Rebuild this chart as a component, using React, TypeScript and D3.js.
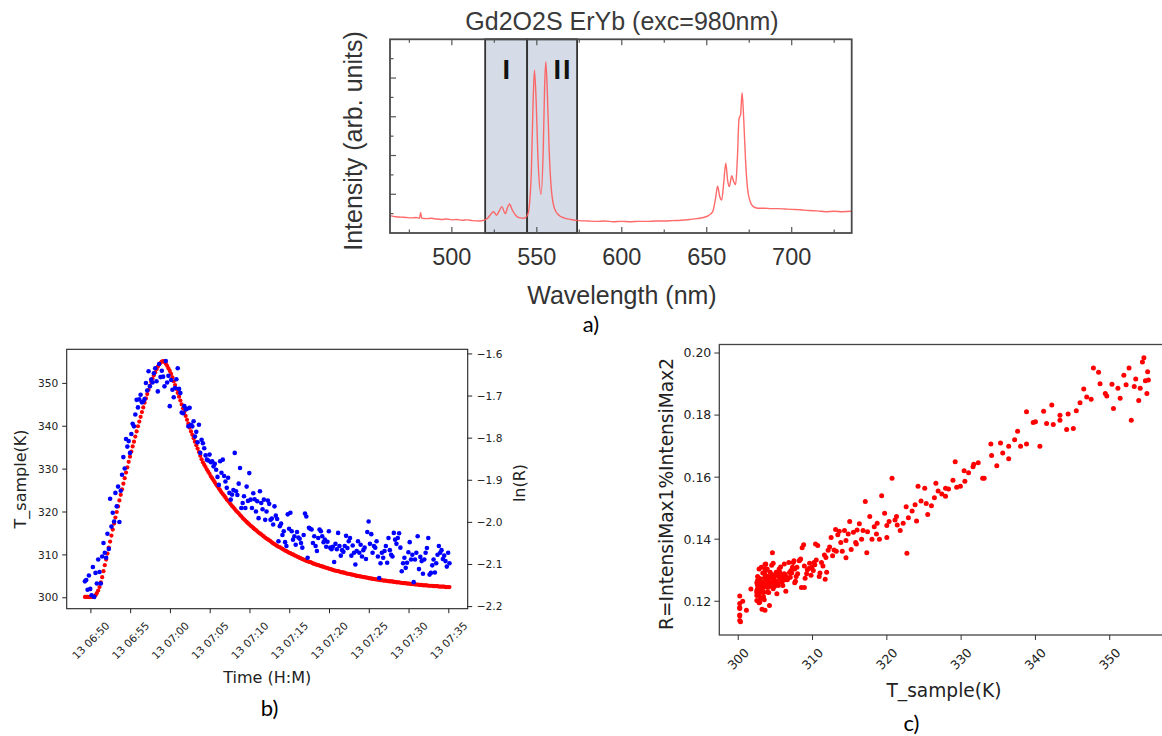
import React from 'react';
import * as d3 from 'd3';

// ---- panel a: emission spectrum, [wavelength nm, intensity arb.]
const spectrum: [number, number][] = [
  [463.6, 0.45], [467, 0.42], [470, 0.41], [473, 0.4], [476, 0.39], [479, 0.4], [481, 0.38],
  [481.6, 0.53], [482.3, 0.38], [485, 0.37], [488, 0.38], [491, 0.36], [494, 0.35], [497, 0.36],
  [500, 0.34], [503, 0.35], [506, 0.33], [509, 0.34], [512, 0.32], [516, 0.31], [519, 0.33],
  [521, 0.38], [522.5, 0.46], [524.5, 0.55], [526.3, 0.46], [528, 0.58], [529.4, 0.68],
  [531.4, 0.5], [532.8, 0.66], [533.9, 0.75], [535.5, 0.6], [537.5, 0.46], [540, 0.39],
  [542.5, 0.38], [544.5, 0.46], [545.8, 0.8], [546.8, 1.6], [547.7, 3.2], [548.6, 4.2],
  [549.6, 3.4], [550.8, 1.8], [552.5, 1.0], [553.8, 2.2], [554.6, 3.8], [555.3, 4.42],
  [556.2, 3.6], [557.3, 2.1], [558.6, 1.1], [560.5, 0.62], [563, 0.46], [566, 0.39], [570, 0.35],
  [575, 0.32], [580, 0.31], [585, 0.3], [590, 0.31], [595, 0.29], [600, 0.3], [605, 0.29],
  [610, 0.3], [615, 0.3], [620, 0.31], [625, 0.31], [630, 0.32], [635, 0.33], [640, 0.35],
  [644, 0.37], [648, 0.4], [651, 0.45], [653.5, 0.55], [655.2, 0.9], [656.4, 1.21], [657.6, 0.95],
  [658.8, 0.85], [660, 1.3], [661.2, 1.8], [662.3, 1.35], [663.3, 1.2], [664.7, 1.48],
  [665.9, 1.32], [667, 1.25], [668, 1.9], [669, 2.95], [669.9, 3.05], [670.8, 3.62],
  [671.8, 2.9], [672.8, 1.9], [674, 1.15], [675.5, 0.82], [677.4, 0.68], [680, 0.64], [684, 0.64],
  [688, 0.63], [692, 0.63], [696, 0.62], [700, 0.61], [705, 0.6], [710, 0.58], [715, 0.57],
  [720, 0.55], [725, 0.56], [730, 0.55], [735.3, 0.56],
];
const bandI = [519.6, 544.3];
const bandII = [544.3, 573.7];
const wlTicks = [500, 550, 600, 650, 700];
const wlMinor = [475, 525, 575, 625, 675, 725];
const intTicks = [1, 2, 3, 4];
const intMinor = [0.5, 1.5, 2.5, 3.5, 4.5];

// ---- panels b & c: one sample every 10 s starting 13th, 06:49:15
const startTime = new Date(2021, 0, 13, 6, 49, 15);
const stepSec = 10;
const tSample = [
  300.2, 300.2, 300.2, 300.2, 300.2, 300.2, 300.2, 300.3, 300.6, 301.1,
  301.7, 302.5, 303.6, 304.8, 306.2, 307.6, 308.9, 310.3, 311.7, 313.1,
  314.5, 315.9, 317.3, 318.7, 320.0, 321.3, 322.7, 324.0, 325.3, 326.6,
  327.9, 329.2, 330.4, 331.7, 332.9, 334.1, 335.3, 336.4, 337.6, 338.8,
  340.0, 341.1, 342.2, 343.3, 344.4, 345.5, 346.5, 347.5, 348.5, 349.4,
  350.3, 351.1, 351.9, 352.6, 353.3, 353.9, 354.4, 354.8, 355.1, 355.2,
  355.0, 354.6, 354.1, 353.5, 352.9, 352.2, 351.4, 350.5, 349.6, 348.7,
  347.8, 346.9, 346.0, 345.1, 344.2, 343.3, 342.4, 341.5, 340.6, 339.7,
  338.8, 338.0, 337.2, 336.4, 335.6, 334.8, 334.0, 333.1, 332.3,
  331.6, 331.0, 330.5, 329.9, 329.4, 328.9,
  328.3, 327.9, 327.4, 326.9, 326.4, 326.0,
  325.5, 325.1, 324.6, 324.2, 323.8, 323.4,
  322.9, 322.6, 322.2, 321.8, 321.4, 321.1,
  320.7, 320.3, 320.0, 319.7, 319.3, 319.0,
  318.6, 318.3, 318.0, 317.7, 317.4, 317.1,
  316.8, 316.6, 316.3, 316.0, 315.8, 315.5,
  315.2, 315.0, 314.8, 314.5, 314.3, 314.0,
  313.8, 313.6, 313.4, 313.2, 312.9, 312.7,
  312.5, 312.3, 312.1, 311.9, 311.8, 311.6,
  311.4, 311.2, 311.0, 310.9, 310.7, 310.5,
  310.4, 310.2, 310.1, 309.9, 309.8, 309.6,
  309.5, 309.3, 309.2, 309.0, 308.9, 308.8,
  308.6, 308.5, 308.4, 308.3, 308.2, 308.0,
  307.9, 307.8, 307.7, 307.6, 307.5, 307.4,
  307.3, 307.2, 307.1, 307.0, 306.9, 306.8,
  306.7, 306.6, 306.5, 306.4, 306.3, 306.3,
  306.2, 306.1, 306.0, 305.9, 305.9, 305.8,
  305.7, 305.6, 305.6, 305.5, 305.4, 305.4,
  305.3, 305.2, 305.1, 305.1, 305.0, 305.0,
  304.9, 304.8, 304.8, 304.7, 304.7, 304.6,
  304.5, 304.5, 304.4, 304.4, 304.3, 304.3,
  304.2, 304.2, 304.1, 304.1, 304.0, 304.0,
  304.0, 303.9, 303.9, 303.8, 303.8, 303.8,
  303.7, 303.7, 303.6, 303.6, 303.6, 303.5,
  303.5, 303.4, 303.4, 303.4, 303.3, 303.3,
  303.3, 303.2, 303.2, 303.2, 303.1, 303.1,
  303.1, 303.0, 303.0, 303.0, 302.9, 302.9,
  302.9, 302.9, 302.8, 302.8, 302.8, 302.8,
  302.7, 302.7, 302.7, 302.7, 302.6, 302.6,
  302.6, 302.6, 302.6, 302.5, 302.5, 302.5,
  302.5,
];
const lnR = [
  -2.140, -2.137, -2.160, -2.126, -2.158, -2.173, -2.106, -2.177, -2.120, -2.145,
  -2.088, -2.118, -2.145, -2.081, -2.049, -2.072, -2.084, -2.027, -2.063, -1.944,
  -2.010, -1.977, -1.998, -1.930, -1.962, -1.915, -1.999, -1.925, -1.887, -1.845,
  -1.872, -1.802, -1.820, -1.807, -1.835, -1.790, -1.766, -1.772, -1.744, -1.709,
  -1.727, -1.708, -1.697, -1.715, -1.713, -1.707, -1.669, -1.687, -1.641, -1.677,
  -1.661, -1.668, -1.646, -1.634, -1.665, -1.689, -1.624, -1.655, -1.640, -1.654,
  -1.677, -1.617, -1.668, -1.652, -1.724, -1.662, -1.685, -1.703, -1.681, -1.660,
  -1.634, -1.683, -1.693, -1.739, -1.741, -1.724, -1.732, -1.730, -1.772, -1.728,
  -1.768, -1.772, -1.760, -1.796, -1.785, -1.810, -1.768, -1.835, -1.804, -1.812,
  -1.824, -1.841, -1.851, -1.853, -1.839, -1.857, -1.855, -1.867, -1.861, -1.875,
  -1.892, -1.911, -1.855, -1.882, -1.851, -1.890, -1.903, -1.918, -1.894, -1.930,
  -1.946, -1.934, -1.923, -1.835, -1.926, -1.935, -1.908, -1.871, -1.966, -1.954,
  -1.938, -1.966, -1.915, -1.949, -1.883, -1.946, -1.966, -1.931, -1.945, -1.974,
  -1.950, -1.990, -1.926, -1.954, -1.969, -1.946, -1.994, -1.974, -1.948, -1.956,
  -1.994, -1.991, -2.005, -1.962, -1.984, -1.992, -2.045, -2.009, -2.003, -2.030,
  -2.021, -2.047, -2.056, -1.981, -2.015, -1.977, -2.021, -2.041, -2.033, -2.053,
  -2.023, -2.036, -2.039, -2.049, -2.060, -2.030, -1.979, -1.986, -2.084, -2.013,
  -2.015, -2.017, -2.049, -2.033, -2.056, -2.068, -2.037, -2.017, -2.021, -2.033,
  -2.047, -2.041, -2.058, -2.046, -2.021, -2.060, -2.064, -2.058, -2.094, -2.051,
  -2.064, -2.025, -2.056, -2.079, -2.066, -2.070, -2.056, -2.032, -2.061, -2.045,
  -2.037, -2.079, -2.055, -2.072, -2.100, -2.068, -2.045, -2.072, -2.053, -2.081,
  -2.066, -2.060, -2.087, -2.023, -1.998, -2.051, -2.028, -2.072, -2.056, -2.060,
  -2.045, -2.081, -2.132, -2.097, -2.072, -2.084, -2.068, -2.056, -2.096, -2.037,
  -2.066, -2.077, -2.081, -2.025, -2.041, -2.051, -2.037, -2.026, -2.060, -2.116,
  -2.097, -2.084, -2.108, -2.096, -2.071, -2.047, -2.088, -2.077, -2.142, -2.088,
  -2.072, -2.033, -2.111, -2.082, -2.092, -2.122, -2.088, -2.072, -2.061, -2.037,
  -2.124, -2.120, -2.102, -2.088, -2.119, -2.097, -2.077, -2.056, -2.072, -2.066,
  -2.087, -2.079, -2.092, -2.105, -2.072, -2.097,
];
const tempTicks = [300, 310, 320, 330, 340, 350];
const lnRTicks = [-2.2, -2.1, -2.0, -1.9, -1.8, -1.7, -1.6];
const ratioTicks = [0.12, 0.14, 0.16, 0.18, 0.2];

// plot boxes (px)
const A = { left: 390, right: 851.7, top: 39.3, bottom: 233 };
const B = { left: 66.7, right: 467.7, top: 349.3, bottom: 608.7 };
const C = { left: 719.3, right: 1168.8, top: 344.5, bottom: 635 };

// matplotlib style 5% margins
const pad = (ext: [number, number]) => {
  const span = ext[1] - ext[0];
  return [ext[0] - span * 0.05, ext[1] + span * 0.05];
};

const MPL = 'DejaVu Sans';
const ARIAL = 'Liberation Sans';

export default function App() {
  // --- a
  const xa = d3.scaleLinear().domain([463.6, 735.3]).range([A.left, A.right]);
  const ya = d3.scaleLinear().domain([0, 5]).range([A.bottom, A.top]);
  const specPath = d3.line<[number, number]>()
    .x(d => xa(d[0]))
    .y(d => ya(d[1]))
    .curve(d3.curveMonotoneX)(spectrum);

  // --- b
  const times = tSample.map((_, i) => new Date(startTime.getTime() + i * stepSec * 1000));
  const tExt = d3.extent(times.map(t => t.getTime())) as [number, number];
  const tDom = pad(tExt);
  const xb = d3.scaleTime().domain([new Date(tDom[0]), new Date(tDom[1])]).range([B.left, B.right]);
  const ybL = d3.scaleLinear().domain(pad(d3.extent(tSample) as [number, number])).range([B.bottom, B.top]);
  const ybR = d3.scaleLinear().domain(pad(d3.extent(lnR) as [number, number])).range([B.bottom, B.top]);
  const timeTicks = xb.ticks(d3.timeMinute.every(5) as d3.TimeInterval);
  const fmtTime = d3.timeFormat('%d %H:%M');
  const fmt1 = d3.format('.1f');

  // --- c
  const ratio = lnR.map(v => Math.exp(v));
  const xc = d3.scaleLinear().domain(pad(d3.extent(tSample) as [number, number])).range([C.left, C.right]);
  const yc = d3.scaleLinear().domain(pad(d3.extent(ratio) as [number, number])).range([C.bottom, C.top]);
  const fmt2 = d3.format('.2f');

  const tk = '#222';

  return (
    <svg width={1162} height={736} style={{ position: 'absolute', left: 0, top: 0, display: 'block', background: '#fff' }}>
      {/* ================= a) ================= */}
      <text x={622} y={30} textAnchor="middle" fontFamily={ARIAL} fontSize={25} fill="#3a3a3a">
        Gd2O2S ErYb (exc=980nm)
      </text>
      {[bandI, bandII].map((b, i) => (
        <rect key={i} x={xa(b[0])} y={A.top} width={xa(b[1]) - xa(b[0])} height={A.bottom - A.top}
          fill="#d5dce7" stroke="#333" strokeWidth={1.8} />
      ))}
      <path d={specPath || ''} fill="none" stroke="#ff5a5a" strokeOpacity={0.9} strokeWidth={1.4} />
      <rect x={A.left} y={A.top} width={A.right - A.left} height={A.bottom - A.top}
        fill="none" stroke="#4a4a4a" strokeWidth={1.8} />
      {wlTicks.map(v => (
        <g key={'wt' + v} stroke="#555" strokeWidth={1.2}>
          <line x1={xa(v)} x2={xa(v)} y1={A.top} y2={A.top + 6} />
          <line x1={xa(v)} x2={xa(v)} y1={A.bottom} y2={A.bottom - 6} />
        </g>
      ))}
      {wlMinor.map(v => (
        <g key={'wm' + v} stroke="#555" strokeWidth={1.2}>
          <line x1={xa(v)} x2={xa(v)} y1={A.top} y2={A.top + 3.5} />
          <line x1={xa(v)} x2={xa(v)} y1={A.bottom} y2={A.bottom - 3.5} />
        </g>
      ))}
      {intTicks.map(v => (
        <line key={'it' + v} x1={A.left} x2={A.left + 6} y1={ya(v)} y2={ya(v)} stroke="#555" strokeWidth={1.2} />
      ))}
      {intMinor.map(v => (
        <line key={'im' + v} x1={A.left} x2={A.left + 3.5} y1={ya(v)} y2={ya(v)} stroke="#555" strokeWidth={1.2} />
      ))}
      <text x={xa((bandI[0] + bandI[1]) / 2)} y={78.5} textAnchor="middle" fontFamily={ARIAL} fontWeight="bold" fontSize={27} fill="#111">I</text>
      <text x={563} y={78.5} textAnchor="middle" fontFamily={ARIAL} fontWeight="bold" fontSize={27} fill="#111" letterSpacing={2}>II</text>
      {wlTicks.map(v => (
        <text key={'wl' + v} x={xa(v)} y={265} textAnchor="middle" fontFamily={ARIAL} fontSize={23.5} fill="#333">{v}</text>
      ))}
      <text x={622} y={304} textAnchor="middle" fontFamily={ARIAL} fontSize={25} fill="#333">Wavelength (nm)</text>
      <text transform={`translate(362,141) rotate(-90)`} textAnchor="middle" fontFamily={ARIAL} fontSize={25} fill="#333">
        Intensity (arb. units)
      </text>
      <text x={591} y={332} textAnchor="middle" fontFamily="Lato" fontSize={22} fill="#000">a)</text>

      {/* ================= b) ================= */}
      {tSample.map((v, i) => (
        <circle key={'r' + i} cx={xb(times[i])} cy={ybL(v)} r={2.1} fill="#ff0000" />
      ))}
      {lnR.map((v, i) => (
        <circle key={'b' + i} cx={xb(times[i])} cy={ybR(v)} r={2.3} fill="#0000ff" />
      ))}
      <rect x={B.left} y={B.top} width={B.right - B.left} height={B.bottom - B.top} fill="none" stroke="#222" strokeWidth={1.1} />
      {tempTicks.map(v => (
        <g key={'bt' + v}>
          <line x1={B.left - 4.5} x2={B.left} y1={ybL(v)} y2={ybL(v)} stroke={tk} />
          <text x={B.left - 8.5} y={ybL(v)} dy="0.35em" textAnchor="end" fontFamily={MPL} fontSize={10.6} fill={tk}>{v}</text>
        </g>
      ))}
      {lnRTicks.map(v => (
        <g key={'br' + v}>
          <line x1={B.right} x2={B.right + 4.5} y1={ybR(v)} y2={ybR(v)} stroke={tk} />
          <text x={B.right + 9} y={ybR(v)} dy="0.35em" textAnchor="start" fontFamily={MPL} fontSize={10.6} fill={tk}>{fmt1(v)}</text>
        </g>
      ))}
      {timeTicks.map(t => (
        <g key={'bx' + t.getTime()}>
          <line x1={xb(t)} x2={xb(t)} y1={B.bottom} y2={B.bottom + 4.5} stroke={tk} />
          <text transform={`translate(${xb(t)},${B.bottom + 32}) rotate(-45)`} textAnchor="middle" dy="0.35em"
            fontFamily={MPL} fontSize={10.6} fill={tk}>{fmtTime(t)}</text>
        </g>
      ))}
      <text x={(B.left + B.right) / 2} y={682.5} textAnchor="middle" fontFamily={MPL} fontSize={16} fill={tk}>Time (H:M)</text>
      <text transform={`translate(26,${(B.top + B.bottom) / 2}) rotate(-90)`} textAnchor="middle" fontFamily={MPL} fontSize={16} fill={tk}>T_sample(K)</text>
      <text transform={`translate(525,${(B.top + B.bottom) / 2 + 4}) rotate(-90)`} textAnchor="middle" fontFamily={MPL} fontSize={16} fill={tk}>ln(R)</text>
      <text x={269.5} y={716} textAnchor="middle" fontFamily="Lato" fontSize={22} fill="#000">b)</text>

      {/* ================= c) ================= */}
      {ratio.map((v, i) => (
        <circle key={'c' + i} cx={xc(tSample[i])} cy={yc(v)} r={2.5} fill="#ff0000" />
      ))}
      <rect x={C.left} y={C.top} width={C.right - C.left} height={C.bottom - C.top} fill="none" stroke="#444" strokeWidth={1.3} />
      {ratioTicks.map(v => (
        <g key={'cy' + v}>
          <line x1={C.left - 5} x2={C.left} y1={yc(v)} y2={yc(v)} stroke="#333" />
          <text x={C.left - 8} y={yc(v)} dy="0.35em" textAnchor="end" fontFamily={MPL} fontSize={12.5} fill={tk}>{fmt2(v)}</text>
        </g>
      ))}
      {tempTicks.map(v => (
        <g key={'cx' + v}>
          <line x1={xc(v)} x2={xc(v)} y1={C.bottom} y2={C.bottom + 5} stroke="#333" />
          <text transform={`translate(${xc(v)},${C.bottom + 24}) rotate(-45)`} textAnchor="middle" dy="0.35em"
            fontFamily={MPL} fontSize={12.5} fill={tk}>{v}</text>
        </g>
      ))}
      <text x={944} y={697} textAnchor="middle" fontFamily={MPL} fontSize={18.6} fill={tk}>T_sample(K)</text>
      <text transform={`translate(673,494) rotate(-90)`} textAnchor="middle" fontFamily={MPL} fontSize={18.6} fill={tk}>
        R=IntensiMax1%IntensiMax2
      </text>
      <text x={911.5} y={731} textAnchor="middle" fontFamily="Lato" fontSize={22} fill="#000">c)</text>
    </svg>
  );
}
